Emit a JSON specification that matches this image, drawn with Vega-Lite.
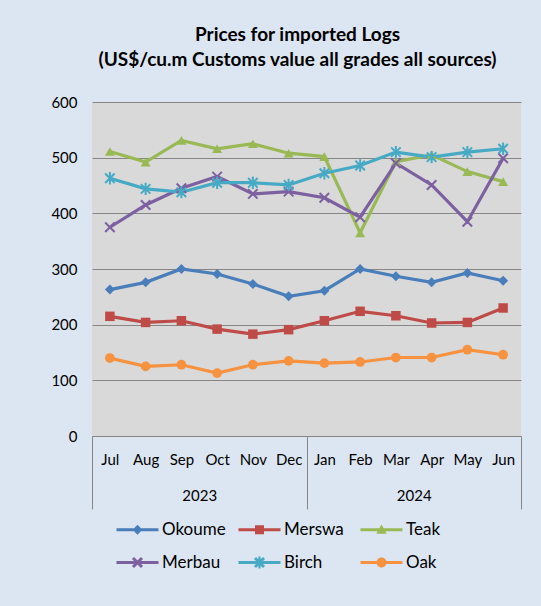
{
  "$schema": "https://vega.github.io/schema/vega-lite/v6.json",
  "width": 429,
  "height": 334,
  "autosize": {"type": "none"},
  "padding": {"left": 92, "top": 102, "right": 20, "bottom": 170},
  "background": "#dce6f2",
  "config": {
    "font": "Lato",
    "view": {"fill": "#d9d9d9", "stroke": null}
  },
  "title": {
    "text": ["Prices for imported Logs", "(US$/cu.m Customs value all grades all sources)"],
    "font": "Lato",
    "fontSize": 19,
    "fontWeight": "bold",
    "color": "#000000",
    "anchor": "middle",
    "lineHeight": 25,
    "offset": 25,
    "dx": -9
  },
  "datasets": {
    "prices": [
      {"month": "Jul", "series": "Okoume", "price": 263},
      {"month": "Aug", "series": "Okoume", "price": 276},
      {"month": "Sep", "series": "Okoume", "price": 300},
      {"month": "Oct", "series": "Okoume", "price": 291},
      {"month": "Nov", "series": "Okoume", "price": 273},
      {"month": "Dec", "series": "Okoume", "price": 251},
      {"month": "Jan", "series": "Okoume", "price": 261},
      {"month": "Feb", "series": "Okoume", "price": 300},
      {"month": "Mar", "series": "Okoume", "price": 287},
      {"month": "Apr", "series": "Okoume", "price": 276},
      {"month": "May", "series": "Okoume", "price": 293},
      {"month": "Jun", "series": "Okoume", "price": 279},
      {"month": "Jul", "series": "Merswa", "price": 215},
      {"month": "Aug", "series": "Merswa", "price": 204},
      {"month": "Sep", "series": "Merswa", "price": 207},
      {"month": "Oct", "series": "Merswa", "price": 192},
      {"month": "Nov", "series": "Merswa", "price": 183},
      {"month": "Dec", "series": "Merswa", "price": 191},
      {"month": "Jan", "series": "Merswa", "price": 207},
      {"month": "Feb", "series": "Merswa", "price": 224},
      {"month": "Mar", "series": "Merswa", "price": 216},
      {"month": "Apr", "series": "Merswa", "price": 203},
      {"month": "May", "series": "Merswa", "price": 204},
      {"month": "Jun", "series": "Merswa", "price": 230},
      {"month": "Jul", "series": "Teak", "price": 511},
      {"month": "Aug", "series": "Teak", "price": 492},
      {"month": "Sep", "series": "Teak", "price": 531},
      {"month": "Oct", "series": "Teak", "price": 516},
      {"month": "Nov", "series": "Teak", "price": 525},
      {"month": "Dec", "series": "Teak", "price": 508},
      {"month": "Jan", "series": "Teak", "price": 502},
      {"month": "Feb", "series": "Teak", "price": 365},
      {"month": "Mar", "series": "Teak", "price": 493},
      {"month": "Apr", "series": "Teak", "price": 505},
      {"month": "May", "series": "Teak", "price": 475},
      {"month": "Jun", "series": "Teak", "price": 457},
      {"month": "Jul", "series": "Merbau", "price": 375},
      {"month": "Aug", "series": "Merbau", "price": 415},
      {"month": "Sep", "series": "Merbau", "price": 445},
      {"month": "Oct", "series": "Merbau", "price": 466},
      {"month": "Nov", "series": "Merbau", "price": 435},
      {"month": "Dec", "series": "Merbau", "price": 439},
      {"month": "Jan", "series": "Merbau", "price": 428},
      {"month": "Feb", "series": "Merbau", "price": 393},
      {"month": "Mar", "series": "Merbau", "price": 490},
      {"month": "Apr", "series": "Merbau", "price": 451},
      {"month": "May", "series": "Merbau", "price": 385},
      {"month": "Jun", "series": "Merbau", "price": 499},
      {"month": "Jul", "series": "Birch", "price": 463},
      {"month": "Aug", "series": "Birch", "price": 444},
      {"month": "Sep", "series": "Birch", "price": 438},
      {"month": "Oct", "series": "Birch", "price": 455},
      {"month": "Nov", "series": "Birch", "price": 455},
      {"month": "Dec", "series": "Birch", "price": 451},
      {"month": "Jan", "series": "Birch", "price": 472},
      {"month": "Feb", "series": "Birch", "price": 486},
      {"month": "Mar", "series": "Birch", "price": 510},
      {"month": "Apr", "series": "Birch", "price": 501},
      {"month": "May", "series": "Birch", "price": 510},
      {"month": "Jun", "series": "Birch", "price": 516},
      {"month": "Jul", "series": "Oak", "price": 140},
      {"month": "Aug", "series": "Oak", "price": 125},
      {"month": "Sep", "series": "Oak", "price": 128},
      {"month": "Oct", "series": "Oak", "price": 113},
      {"month": "Nov", "series": "Oak", "price": 128},
      {"month": "Dec", "series": "Oak", "price": 135},
      {"month": "Jan", "series": "Oak", "price": 131},
      {"month": "Feb", "series": "Oak", "price": 133},
      {"month": "Mar", "series": "Oak", "price": 141},
      {"month": "Apr", "series": "Oak", "price": 141},
      {"month": "May", "series": "Oak", "price": 155},
      {"month": "Jun", "series": "Oak", "price": 146}
    ],
    "years": [{"year": "2023"}, {"year": "2024"}]
  },
  "layer": [
    {
      "data": {"name": "prices"},
      "encoding": {
        "x": {
          "field": "month",
          "type": "nominal",
          "scale": {"domain": ["Jul", "Aug", "Sep", "Oct", "Nov", "Dec", "Jan", "Feb", "Mar", "Apr", "May", "Jun"]},
          "axis": {
            "orient": "bottom",
            "title": null,
            "ticks": false,
            "domain": true,
            "domainColor": "#868686",
            "domainWidth": 1,
            "labelAngle": 0,
            "labelFont": "Lato",
            "labelFontSize": 15,
            "labelColor": "#000000",
            "labelPadding": 16,
            "grid": false
          }
        },
        "y": {
          "field": "price",
          "type": "quantitative",
          "scale": {"domain": [0, 600], "nice": false},
          "axis": {
            "title": null,
            "values": [0, 100, 200, 300, 400, 500, 600],
            "ticks": false,
            "domain": false,
            "grid": true,
            "gridColor": "#868686",
            "gridWidth": 1,
            "labelFont": "Lato",
            "labelFontSize": 15,
            "labelColor": "#000000",
            "labelPadding": 15
          }
        }
      },
      "layer": [
        {
          "transform": [{"filter": "false"}],
          "mark": {"type": "point", "filled": true, "opacity": 1, "strokeWidth": 0},
          "encoding": {
            "color": {
              "field": "series",
              "type": "nominal",
              "scale": {
                "domain": ["Okoume", "Merswa", "Teak", "Merbau", "Birch", "Oak"],
                "range": ["#4a7ebb", "#be4b48", "#98b954", "#7d60a0", "#46aac5", "#f69240"]
              },
              "legend": {
                "title": null,
                "orient": "none",
                "legendX": 37,
                "legendY": 419,
                "direction": "horizontal",
                "columns": 3,
                "gridAlign": "all",
                "columnPadding": 12,
                "rowPadding": 15,
                "symbolSize": 100,
                "symbolOpacity": 1,
                "symbolStrokeWidth": 0,
                "labelFont": "Lato",
                "labelFontSize": 17,
                "labelColor": "#000000",
                "labelOffset": 16
              }
            },
            "shape": {
              "field": "series",
              "type": "nominal",
              "scale": {
                "domain": ["Okoume", "Merswa", "Teak", "Merbau", "Birch", "Oak"],
                "range": [
                  "M-4.2,-0.32L4.2,-0.32L4.2,0.32L-4.2,0.32ZM0,-1L1,0L0,1L-1,0Z",
                  "M-4.2,-0.32L4.2,-0.32L4.2,0.32L-4.2,0.32ZM-0.9,-0.9L0.9,-0.9L0.9,0.9L-0.9,0.9Z",
                  "M-4.2,-0.32L4.2,-0.32L4.2,0.32L-4.2,0.32ZM0,-1.05L1.05,0.8L-1.05,0.8Z",
                  "M-4.2,-0.32L4.2,-0.32L4.2,0.32L-4.2,0.32ZM-0.69,-1.11L1.11,0.69L0.69,1.11L-1.11,-0.69ZM-1.11,0.69L0.69,-1.11L1.11,-0.69L-0.69,1.11Z",
                  "M-4.2,-0.32L4.2,-0.32L4.2,0.32L-4.2,0.32ZM-0.69,-1.11L1.11,0.69L0.69,1.11L-1.11,-0.69ZM-1.11,0.69L0.69,-1.11L1.11,-0.69L-0.69,1.11ZM0.22,-1.2L0.22,1.2L-0.22,1.2L-0.22,-1.2Z",
                  "M-4.2,-0.32L4.2,-0.32L4.2,0.32L-4.2,0.32ZM-1,0A1,1,0,1,1,1,0A1,1,0,1,1,-1,0Z"
                ]
              }
            }
          }
        },
        {
          "mark": {"type": "line", "strokeWidth": 3.2},
          "encoding": {
            "color": {"field": "series", "type": "nominal"}
          }
        },
        {
          "transform": [{"filter": "datum.series === 'Okoume'"}],
          "mark": {"type": "point", "shape": "diamond", "filled": true, "size": 100, "color": "#4a7ebb", "opacity": 1}
        },
        {
          "transform": [{"filter": "datum.series === 'Merswa'"}],
          "mark": {"type": "point", "shape": "square", "filled": true, "size": 90, "color": "#be4b48", "opacity": 1}
        },
        {
          "transform": [{"filter": "datum.series === 'Teak'"}],
          "mark": {"type": "point", "shape": "triangle-up", "filled": true, "size": 100, "color": "#98b954", "opacity": 1}
        },
        {
          "transform": [{"filter": "datum.series === 'Merbau'"}],
          "mark": {"type": "point", "shape": "M-1,-1L1,1M-1,1L1,-1", "filled": false, "size": 90, "strokeWidth": 2, "color": "#7d60a0", "opacity": 1}
        },
        {
          "transform": [{"filter": "datum.series === 'Birch'"}],
          "mark": {"type": "point", "shape": "M-1,-1L1,1M-1,1L1,-1M0,-1.3L0,1.3", "filled": false, "size": 90, "strokeWidth": 2, "color": "#46aac5", "opacity": 1}
        },
        {
          "transform": [{"filter": "datum.series === 'Oak'"}],
          "mark": {"type": "point", "shape": "circle", "filled": true, "size": 95, "color": "#f69240", "opacity": 1}
        }
      ]
    },
    {
      "data": {"name": "years"},
      "mark": {"type": "point", "opacity": 0},
      "encoding": {
        "x": {
          "field": "year",
          "type": "nominal",
          "scale": {"domain": ["2023", "2024"]},
          "axis": {
            "orient": "bottom",
            "title": null,
            "domain": false,
            "grid": false,
            "ticks": true,
            "tickBand": "extent",
            "tickSize": 73,
            "tickColor": "#868686",
            "tickWidth": 1,
            "labelAngle": 0,
            "labelFont": "Lato",
            "labelFontSize": 15,
            "labelColor": "#000000",
            "labelPadding": -21
          }
        }
      }
    }
  ],
  "resolve": {"scale": {"x": "independent"}, "axis": {"x": "independent"}}
}
